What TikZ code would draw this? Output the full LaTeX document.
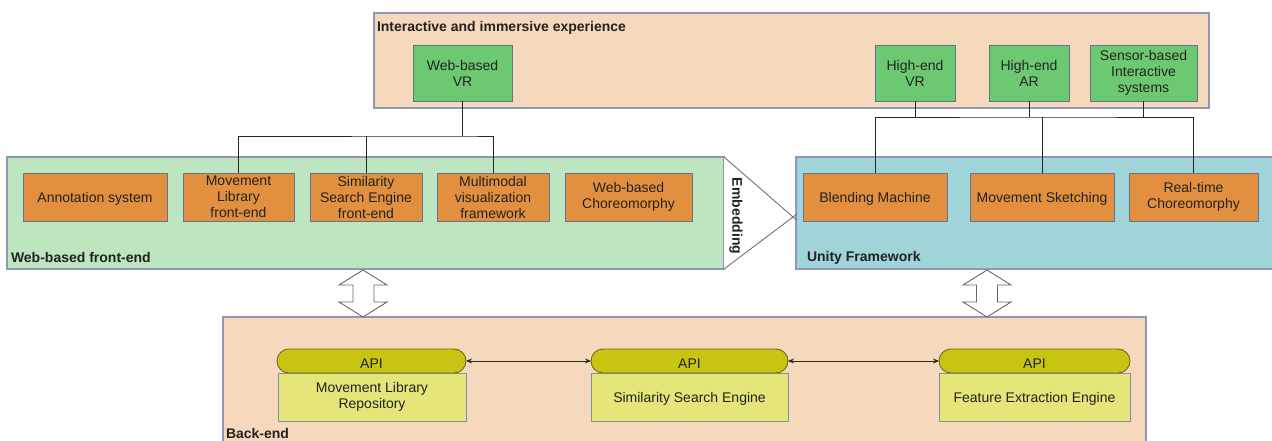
\documentclass[tikz,border=0pt]{standalone}
\usepackage{fontspec}
\setmainfont{Liberation Sans}
\usetikzlibrary{arrows.meta}
\definecolor{peach}{HTML}{F6D8BC}
\definecolor{gfill}{HTML}{6DC971}
\definecolor{lgreen}{HTML}{BCE5C0}
\definecolor{teal}{HTML}{A0D4D8}
\definecolor{orng}{HTML}{E2903F}
\definecolor{apic}{HTML}{C7C412}
\definecolor{apib}{HTML}{6E6C18}
\definecolor{repc}{HTML}{E6E57A}
\definecolor{bordc}{HTML}{8E98B4}
\definecolor{boxb}{HTML}{5F7590}
\definecolor{txt}{HTML}{222222}
\tikzset{
  every node/.style={font=\fontsize{14}{16}\selectfont, text=txt, outer sep=0pt, inner sep=1pt},
  container/.style={draw=bordc, line width=1.1pt},
  lowtext/.style={execute at begin node={\rule{0pt}{14.5pt}}},
  gbox/.style={draw=boxb, fill=gfill, line width=0.9pt, align=center, minimum height=56, lowtext},
  obox/.style={draw=boxb, fill=orng, line width=0.9pt, align=center, minimum height=48, lowtext},
  apibox/.style={draw=apib, fill=apic, line width=0.9pt, rounded corners=12pt, minimum height=24, lowtext},
  repbox/.style={draw=boxb!80, fill=repc, line width=0.9pt, align=center, minimum height=48, lowtext},
  lbl/.style={font=\fontsize{14}{16}\selectfont\bfseries, anchor=west},
  conn/.style={draw=black!85, line width=0.9pt},
  blockarrow/.style={draw=black!60, fill=white, line width=0.9pt}
}
\begin{document}
\begin{tikzpicture}[x=1pt,y=-1pt]
\useasboundingbox (0,0) rectangle (1272,441);
\clip (0,0) rectangle (1272,441);
% containers
\node[container, fill=peach, minimum width=835, minimum height=95] (top) at (791.5,60.5) {};
\node[lbl] (toplbl) at (376,27.5) {Interactive and immersive experience};
\node[container, fill=lgreen, minimum width=717, minimum height=112] (web) at (365.5,213) {};
\node[lbl] (weblbl) at (10,257.5) {Web-based front-end};
\node[container, fill=teal, minimum width=484, minimum height=112] (unity) at (1038,213) {};
\node[lbl] (unitylbl) at (806,257.5) {Unity Framework};
\node[container, fill=peach, minimum width=923, minimum height=140] (back) at (684.5,387) {};
\node[lbl] (backlbl) at (225,433.5) {Back-end};
% embedding triangle
\fill[white] (web.north east) -- (793,217) -- (web.south east) -- cycle;
\draw[draw=black!55, line width=0.9pt] (web.north east) -- (797,220.5);
\draw[draw=black!55, line width=0.9pt] (web.south east) -- (797,214);
\node[rotate=-90, font=\fontsize{14}{16}\selectfont\bfseries] (emb) at (736,216) {Embedding};
% green boxes
\node[gbox, minimum width=99] (webvr) at (462.5,73) {Web-based\\VR};
\node[gbox, minimum width=80] (hvr) at (915,73) {High-end\\VR};
\node[gbox, minimum width=80] (har) at (1029,73) {High-end\\AR};
\node[gbox, minimum width=107] (sens) at (1143.5,73) {Sensor-based\\Interactive\\systems};
% orange boxes
\node[obox, minimum width=144] (ann) at (95,197) {Annotation system};
\node[obox, minimum width=111] (mlib) at (238.5,197) {Movement\\Library\\front-end};
\node[obox, minimum width=112] (sse) at (366,197) {Similarity\\Search Engine\\front-end};
\node[obox, minimum width=112] (mmv) at (493,197) {Multimodal\\visualization\\framework};
\node[obox, minimum width=127] (wch) at (628.5,197) {Web-based\\Choreomorphy};
\node[obox, minimum width=144] (blend) at (875,197) {Blending Machine};
\node[obox, minimum width=144] (msk) at (1042,197) {Movement Sketching};
\node[obox, minimum width=129] (rtc) at (1193.5,197) {Real-time\\Choreomorphy};
% connectors
\coordinate (lj) at (462.5,136);
\coordinate (rj) at (1042,117);
\draw[conn] (webvr.south) -- (lj);
\draw[conn] (mlib.north) |- (lj) -| (mmv.north);
\draw[conn] (sse.north) -- (sse.north |- lj);
\draw[conn] (blend.north) |- (rj) -| (rtc.north);
\draw[conn] (msk.north) -- (rj);
\draw[conn] (hvr.south) -- (hvr.south |- rj);
\draw[conn] (har.south) -- (har.south |- rj);
\draw[conn] (sens.south) -- (sens.south |- rj);
% block arrows
\draw[blockarrow] (363,270) -- (387,285) -- (374,285) -- (374,302) -- (387,302) -- (363,317) -- (339,302) -- (353,302) -- (353,285) -- (339,285) -- cycle;
\draw[blockarrow] (987,270) -- (1011,285) -- (997.5,285) -- (997.5,302) -- (1011,302) -- (987,317) -- (963,302) -- (976.5,302) -- (976.5,285) -- (963,285) -- cycle;
% back-end
\node[repbox, minimum width=188] (rep1) at (372,397) {Movement Library\\Repository};
\node[apibox, minimum width=189] (api1) at (371.5,361) {API};
\node[repbox, minimum width=197] (rep2) at (689.5,397) {Similarity Search Engine};
\node[apibox, minimum width=197] (api2) at (689.5,361) {API};
\node[repbox, minimum width=191] (rep3) at (1034.5,397) {Feature Extraction Engine};
\node[apibox, minimum width=191] (api3) at (1034.5,361) {API};
\draw[conn, line width=0.8pt, {Stealth[length=6pt,width=5pt]}-{Stealth[length=6pt,width=5pt]}] (api1.east) -- (api2.west);
\draw[conn, line width=0.8pt, {Stealth[length=6pt,width=5pt]}-{Stealth[length=6pt,width=5pt]}] (api2.east) -- (api3.west);
\end{tikzpicture}
\end{document}
